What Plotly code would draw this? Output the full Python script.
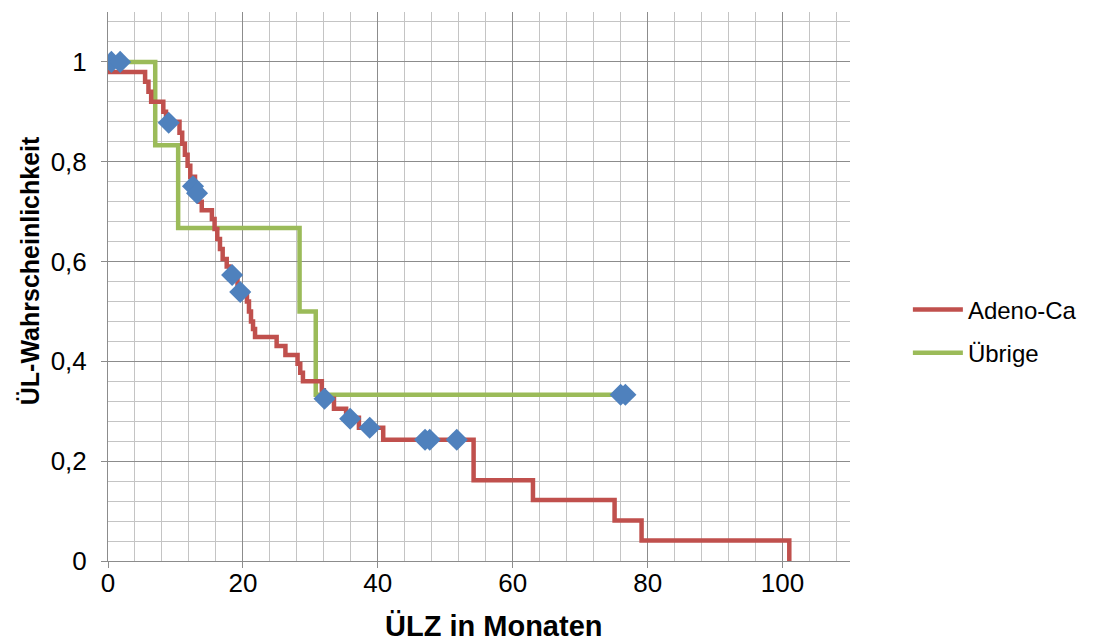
import plotly.graph_objects as go

# Kaplan-Meier step points for the Adeno-Ca group (time in months, survival)
adeno_t = [0, 0.3, 5.5, 6.0, 6.4, 8.2, 8.6, 10.6, 11.0, 11.4, 11.8, 12.2, 12.9,
           13.5, 13.9, 15.4, 15.8, 16.2, 16.6, 17.0, 17.6, 18.0, 19.2, 20.6, 20.9,
           21.2, 21.5, 21.8, 25.0, 26.3, 28.1, 28.5, 28.9, 31.7, 32.0, 33.5, 35.3,
           37.2, 40.8, 54.2, 63.0, 75.1, 79.1, 101.0]
adeno_s = [1.0, 0.98, 0.96, 0.94, 0.92, 0.90, 0.88, 0.858, 0.836, 0.814, 0.792, 0.770, 0.737,
           0.72, 0.703, 0.685, 0.665, 0.645, 0.625, 0.605, 0.59, 0.573, 0.539, 0.52, 0.50,
           0.48, 0.465, 0.449, 0.431, 0.413, 0.395, 0.377, 0.36, 0.342, 0.325, 0.305, 0.287,
           0.267, 0.243, 0.162, 0.122, 0.081, 0.041, 0.0]

# Kaplan-Meier step points for the remaining group
other_t = [0, 7.0, 10.4, 28.4, 30.8, 76.0]
other_s = [1.0, 0.833, 0.667, 0.5, 0.333, 0.333]

# Censored observations
cens_t = [0.5, 1.8, 9.0, 12.6, 13.2, 18.4, 19.6, 32.1, 35.9, 38.8, 47.0, 47.7, 51.7, 76.0, 76.7]
cens_s = [1.0, 1.0, 0.878, 0.751, 0.737, 0.573, 0.539, 0.325, 0.285, 0.267, 0.243, 0.243, 0.243, 0.333, 0.333]

RED = "#C0504D"
GREEN = "#9BBB59"
BLUE = "#4F81BD"
FONT = "Liberation Sans, Arial, sans-serif"

fig = go.Figure()
fig.add_trace(go.Scatter(x=other_t, y=other_s, mode="lines", name="Übrige",
                         legendgroup="g2", legendrank=2,
                         line=dict(color=GREEN, width=4.5, shape="hv")))
fig.add_trace(go.Scatter(x=adeno_t, y=adeno_s, mode="lines", name="Adeno-Ca",
                         legendgroup="g1", legendrank=1,
                         line=dict(color=RED, width=4.5, shape="hv")))
fig.add_trace(go.Scatter(x=cens_t, y=cens_s, mode="markers", showlegend=False,
                         marker=dict(symbol="diamond", size=17, color=BLUE)))

fig.update_layout(
    width=1095, height=642,
    margin=dict(l=108, r=245, t=12, b=81),
    paper_bgcolor="white", plot_bgcolor="white",
    separators=", ",
    font=dict(family=FONT, size=25, color="black"),
    legend=dict(x=1.078, y=0.418, xanchor="left", yanchor="middle",
                font=dict(size=24), tracegroupgap=9, traceorder="grouped",
                itemwidth=50),
    showlegend=True,
    annotations=[
        dict(text="<b>ÜLZ in Monaten</b>", xref="paper", yref="paper",
             x=0.519, y=-0.118, xanchor="center", yanchor="middle",
             showarrow=False, font=dict(size=29)),
        dict(text="<b>ÜL-Wahrscheinlichkeit</b>", xref="paper", yref="paper",
             x=-0.105, y=0.528, xanchor="center", yanchor="middle", textangle=-90,
             showarrow=False, font=dict(size=25)),
    ],
)
fig.update_xaxes(
    range=[0, 110], dtick=20, tick0=0,
    showgrid=True, gridcolor="#8C8C8C", gridwidth=1,
    minor=dict(dtick=4, showgrid=True, gridcolor="#C4C4C4", gridwidth=1),
    showline=True, linecolor="#8C8C8C", linewidth=1,
    ticks="outside", ticklen=6, tickcolor="#8C8C8C",
    tickfont=dict(size=26), ticklabelstandoff=-7,
    zeroline=False,
)
fig.update_yaxes(
    range=[0, 1.1], dtick=0.2, tick0=0,
    showgrid=True, gridcolor="#8C8C8C", gridwidth=1,
    minor=dict(dtick=0.04, showgrid=True, gridcolor="#C4C4C4", gridwidth=1),
    showline=True, linecolor="#8C8C8C", linewidth=1,
    ticks="outside", ticklen=6, tickcolor="#8C8C8C",
    tickfont=dict(size=26), ticklabelstandoff=9,
    zeroline=False,
)

fig.write_html("out.html")
